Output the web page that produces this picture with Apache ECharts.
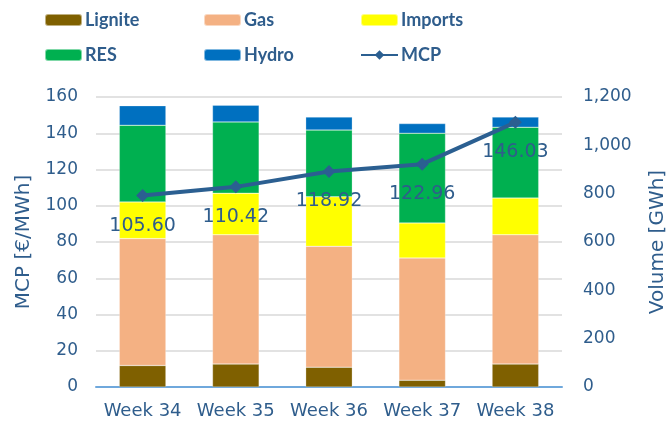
<!DOCTYPE html>
<html>
<head>
<meta charset="utf-8">
<script src="https://cdn.jsdelivr.net/npm/echarts@6/dist/echarts.min.js"></script>
<style>
  html, body { margin: 0; padding: 0; background: #fff; }
  #chart { width: 670px; height: 426px; }
</style>
</head>
<body>
<div id="chart"></div>
<script>
const weeks = ["Week 34", "Week 35", "Week 36", "Week 37", "Week 38"];
// volumes in GWh (right axis)
const lignite = [89, 95, 82, 28, 95];
const gas = [525, 535, 500, 506, 535];
const imports = [152, 172, 205, 145, 152];
const res = [317, 295, 276, 371, 293];
const hydro = [81, 69, 54, 40, 42];
// MCP in €/MWh (left axis)
const mcp = [105.60, 110.42, 118.92, 122.96, 146.03];

const textColor = "#2f5d8c";
const font = "DejaVu Sans";

const chart = echarts.init(document.getElementById("chart"));

const barSeries = (name, data, color) => ({
  name: name,
  type: "bar",
  stack: "vol",
  yAxisIndex: 1,
  barWidth: "50%",
  itemStyle: { color: color, borderColor: "rgba(255,255,255,0.5)", borderWidth: 0.5 },
  data: data,
});

const legendBase = {
  orient: "vertical",
  itemWidth: 37,
  itemHeight: 12,
  itemGap: 17,
  textStyle: { color: textColor, fontFamily: "Lato", fontWeight: "bold", fontSize: 18, padding: [0, 0, 0, -2] },
};

const option = {
  animation: false,
  textStyle: { fontFamily: font },
  legend: [
    Object.assign({ left: 39, top: 6, data: ["Lignite", "RES"] }, legendBase),
    Object.assign({ left: 198, top: 6, data: ["Gas", "Hydro"] }, legendBase),
    Object.assign({ left: 355, top: 6, data: ["Imports", "MCP"] }, legendBase),
  ],
  grid: { left: 96, right: 108, top: 97, bottom: 39, outerBoundsMode: "none" },
  xAxis: {
    type: "category",
    data: weeks,
    axisLine: { lineStyle: { color: "#6fa8dc", width: 2 } },
    axisTick: { length: 7, lineStyle: { color: "#6fa8dc", width: 2 } },
    axisLabel: { color: textColor, fontSize: 18, margin: 15, interval: 0, fontFamily: font },
  },
  yAxis: [
    {
      type: "value",
      min: 0,
      max: 160,
      interval: 20,
      name: "MCP [€/MWh]",
      nameLocation: "middle",
      nameGap: 62,
      nameTextStyle: { color: textColor, fontSize: 20, fontFamily: font },
      axisLine: { show: false },
      axisTick: { show: false },
      axisLabel: { color: textColor, fontSize: 17, margin: 18, fontFamily: font },
      splitLine: { lineStyle: { color: "#d9d9d9", width: 1.5 } },
    },
    {
      type: "value",
      min: 0,
      max: 1200,
      interval: 200,
      name: "Volume [GWh]",
      nameLocation: "middle",
      nameGap: 86,
      nameTextStyle: { color: textColor, fontSize: 20, fontFamily: font },
      axisLine: { show: false },
      axisTick: { show: false },
      axisLabel: {
        color: textColor,
        fontSize: 17,
        margin: 21,
        fontFamily: font,
        formatter: (v) => v.toLocaleString("en-US"),
      },
      splitLine: { show: false },
    },
  ],
  series: [
    barSeries("Lignite", lignite, "#7f6000"),
    barSeries("Gas", gas, "#f4b183"),
    barSeries("Imports", imports, "#ffff00"),
    barSeries("RES", res, "#00b050"),
    barSeries("Hydro", hydro, "#0070c0"),
    {
      name: "MCP",
      type: "line",
      yAxisIndex: 0,
      z: 5,
      symbol: "diamond",
      symbolSize: 13,
      lineStyle: { color: "#2b5f91", width: 4 },
      itemStyle: { color: "#2b5f91" },
      label: {
        show: true,
        position: "bottom",
        distance: 14,
        color: textColor,
        fontSize: 19,
        fontFamily: font,
        formatter: (p) => p.value.toFixed(2),
      },
      data: mcp,
    },
  ],
};

chart.setOption(option);
</script>
</body>
</html>
